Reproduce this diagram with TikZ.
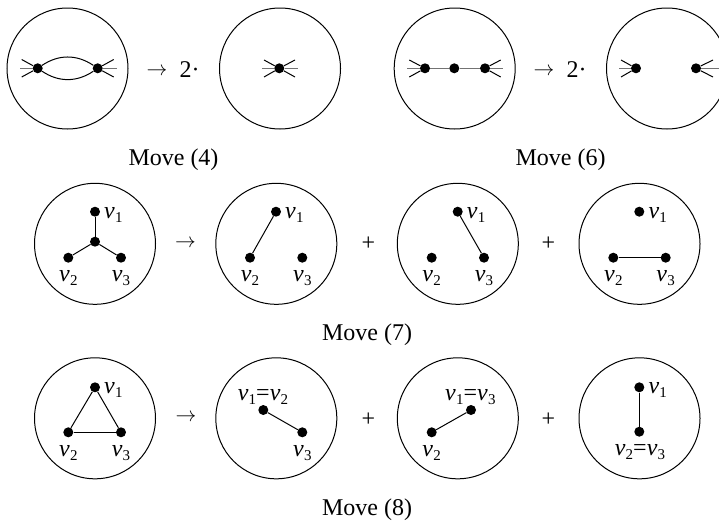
\documentclass[tikz,border=0pt]{standalone}
\usepackage{fontspec}
\setmainfont{Liberation Serif}
\newcommand\vv[1]{\textit{v}\kern0.3pt\raisebox{-4pt}{\fontsize{15}{15}\selectfont #1}}
\begin{document}
\begin{tikzpicture}[x=1pt,y=-1pt,
  every node/.style={font=\fontsize{24}{28}\selectfont, inner sep=0pt},
  disk/.style={draw, circle, line width=1pt, minimum size=121pt},
  dot/.style={circle, fill, minimum size=10pt},
  edge/.style={line width=1pt},
  hleg/.style={line width=1.4pt, black!55},
  lbl/.style={anchor=base},
  lblr/.style={anchor=base west},
  arr/.style={font=\fontsize{22}{24}\selectfont},
]
\useasboundingbox (0,0) rectangle (719,525);
\clip (0,0) rectangle (719,525);

% ---------------- Row 1 ----------------
% Move (4)
\node[disk] (c1) at (67.5,68.5) {};
\node[dot] (l1) at (37.7,68.3) {};
\node[dot] (r1) at (97.7,68.3) {};
\draw[edge] (l1) to[bend left=34] (r1);
\draw[edge] (l1) to[bend right=34] (r1);
\coordinate (l1g) at (20,68.3);
\coordinate (l1u) at (21.7,59.5);
\coordinate (l1d) at (21.7,77);
\coordinate (r1g) at (116.7,68.3);
\coordinate (r1u) at (113.7,59.5);
\coordinate (r1d) at (113.7,77);
\draw[hleg] (l1) -- (l1g);
\draw[hleg] (r1) -- (r1g);
\draw[edge] (l1) -- (l1u);
\draw[edge] (l1) -- (l1d);
\draw[edge] (r1) -- (r1u);
\draw[edge] (r1) -- (r1d);

\node[arr] (ar1) at (157,71.7) {$\rightarrow$};
\node[lbl] (two1) at (189.5,77.3) {2·};

\node[disk] (c2) at (280,68.5) {};
\node[dot] (m2) at (279.3,68.3) {};
\coordinate (m2g1) at (262,68.3);
\coordinate (m2g2) at (298,68.3);
\coordinate (m2a) at (264,60);
\coordinate (m2b) at (295,77);
\coordinate (m2c) at (264,77);
\coordinate (m2d) at (295,60);
\draw[hleg] (m2) -- (m2g1);
\draw[hleg] (m2) -- (m2g2);
\draw[edge] (m2) -- (m2a);
\draw[edge] (m2) -- (m2b);
\draw[edge] (m2) -- (m2c);
\draw[edge] (m2) -- (m2d);

\node[lbl] (mv4) at (173.5,165) {Move (4)};

% Move (6)
\node[disk] (c3) at (454.7,68.5) {};
\node[dot] (p1) at (425,68.3) {};
\node[dot] (p2) at (454.3,68.3) {};
\node[dot] (p3) at (485,68.3) {};
\draw[hleg] (p1) -- (p2);
\draw[hleg] (p2) -- (p3);
\coordinate (p1g) at (406.7,68.3);
\coordinate (p1u) at (409.3,60);
\coordinate (p1d) at (409.3,77);
\coordinate (p3g) at (503.3,68.3);
\coordinate (p3u) at (500.7,60);
\coordinate (p3d) at (500.7,77);
\draw[hleg] (p1) -- (p1g);
\draw[hleg] (p3) -- (p3g);
\draw[edge] (p1) -- (p1u);
\draw[edge] (p1) -- (p1d);
\draw[edge] (p3) -- (p3u);
\draw[edge] (p3) -- (p3d);

\node[arr] (ar2) at (544,71.7) {$\rightarrow$};
\node[lbl] (two2) at (576.5,77.3) {2·};

\node[disk] (c4) at (667,68.5) {};
\node[dot] (q1) at (636,68.3) {};
\node[dot] (q2) at (696,68.3) {};
\coordinate (q1g) at (619,68.3);
\coordinate (q1u) at (621,60);
\coordinate (q1d) at (621,77);
\coordinate (q2g) at (735,68.3);
\coordinate (q2u) at (713,60);
\coordinate (q2d) at (713,77);
\draw[hleg] (q1) -- (q1g);
\draw[hleg] (q2) -- (q2g);
\draw[edge] (q1) -- (q1u);
\draw[edge] (q1) -- (q1d);
\draw[edge] (q2) -- (q2u);
\draw[edge] (q2) -- (q2d);

\node[lbl] (mv6) at (560.5,165) {Move (6)};

% ---------------- Row 2: Move (7) ----------------
\node[disk] (dA) at (95,243.8) {};
\node[dot] (A1) at (95,211.7) {};
\node[dot] (A0) at (95,241.7) {};
\node[dot] (A2) at (68.3,257.7) {};
\node[dot] (A3) at (121,257.7) {};
\draw[edge] (A0) -- (A1);
\draw[edge] (A0) -- (A2);
\draw[edge] (A0) -- (A3);
\node[lblr] (A1l) at (104,218.3) {\vv1};
\node[lbl] (A2l) at (68.3,281.7) {\vv2};
\node[lbl] (A3l) at (121,281.7) {\vv3};

\node[arr] (ar3) at (185.5,243.3) {$\rightarrow$};

\node[disk] (dB) at (276.3,243.8) {};
\node[dot] (B1) at (276,211.7) {};
\node[dot] (B2) at (250,257.7) {};
\node[dot] (B3) at (302.3,257.7) {};
\draw[edge] (B1) -- (B2);
\node[lblr] (B1l) at (285,218.3) {\vv1};
\node[lbl] (B2l) at (250,281.7) {\vv2};
\node[lbl] (B3l) at (302.3,281.7) {\vv3};

\node (pl1) at (368.3,244) {+};

\node[disk] (dC) at (457.8,243.8) {};
\node[dot] (C1) at (457.7,211.7) {};
\node[dot] (C2) at (431.7,257.7) {};
\node[dot] (C3) at (484,257.7) {};
\draw[edge] (C1) -- (C3);
\node[lblr] (C1l) at (466.7,218.3) {\vv1};
\node[lbl] (C2l) at (431.7,281.7) {\vv2};
\node[lbl] (C3l) at (484,281.7) {\vv3};

\node (pl2) at (548.3,244) {+};

\node[disk] (dD) at (639.5,243.8) {};
\node[dot] (D1) at (639.3,211.7) {};
\node[dot] (D2) at (613.3,257.7) {};
\node[dot] (D3) at (665.7,257.7) {};
\draw[edge] (D2) -- (D3);
\node[lblr] (D1l) at (648.3,218.3) {\vv1};
\node[lbl] (D2l) at (613.3,281.7) {\vv2};
\node[lbl] (D3l) at (665.7,281.7) {\vv3};

\node[lbl] (mv7) at (367,340) {Move (7)};

% ---------------- Row 3: Move (8) ----------------
\node[disk] (dE) at (95,418.3) {};
\node[dot] (E1) at (95,387.3) {};
\node[dot] (E2) at (68.3,432.3) {};
\node[dot] (E3) at (121,432.3) {};
\draw[edge] (E1) -- (E2);
\draw[edge] (E2) -- (E3);
\draw[edge] (E3) -- (E1);
\node[lblr] (E1l) at (104,393.9) {\vv1};
\node[lbl] (E2l) at (68.3,456.3) {\vv2};
\node[lbl] (E3l) at (121,456.3) {\vv3};

\node[arr] (ar4) at (186,417.3) {$\rightarrow$};

\node[disk] (dF) at (276.3,418.3) {};
\node[dot] (F12) at (263.3,410) {};
\node[dot] (F3) at (302.3,432.3) {};
\draw[edge] (F12) -- (F3);
\node[lbl] (F12l) at (263,400) {\vv1=\vv2};
\node[lbl] (F3l) at (302.3,456.3) {\vv3};

\node (pl3) at (368.3,419.5) {+};

\node[disk] (dG) at (457.8,418.3) {};
\node[dot] (G2) at (431.7,432.3) {};
\node[dot] (G13) at (471,410) {};
\draw[edge] (G2) -- (G13);
\node[lbl] (G13l) at (470.3,400) {\vv1=\vv3};
\node[lbl] (G2l) at (431.7,456.3) {\vv2};

\node (pl4) at (548.3,419.5) {+};

\node[disk] (dH) at (639.5,418.3) {};
\node[dot] (H1) at (639.3,387.3) {};
\node[dot] (H23) at (639.3,431.7) {};
\draw[edge] (H1) -- (H23);
\node[lblr] (H1l) at (648.3,393.9) {\vv1};
\node[lbl] (H23l) at (640,455.5) {\vv2=\vv3};

\node[lbl] (mv8) at (367,515) {Move (8)};
\end{tikzpicture}
\end{document}
